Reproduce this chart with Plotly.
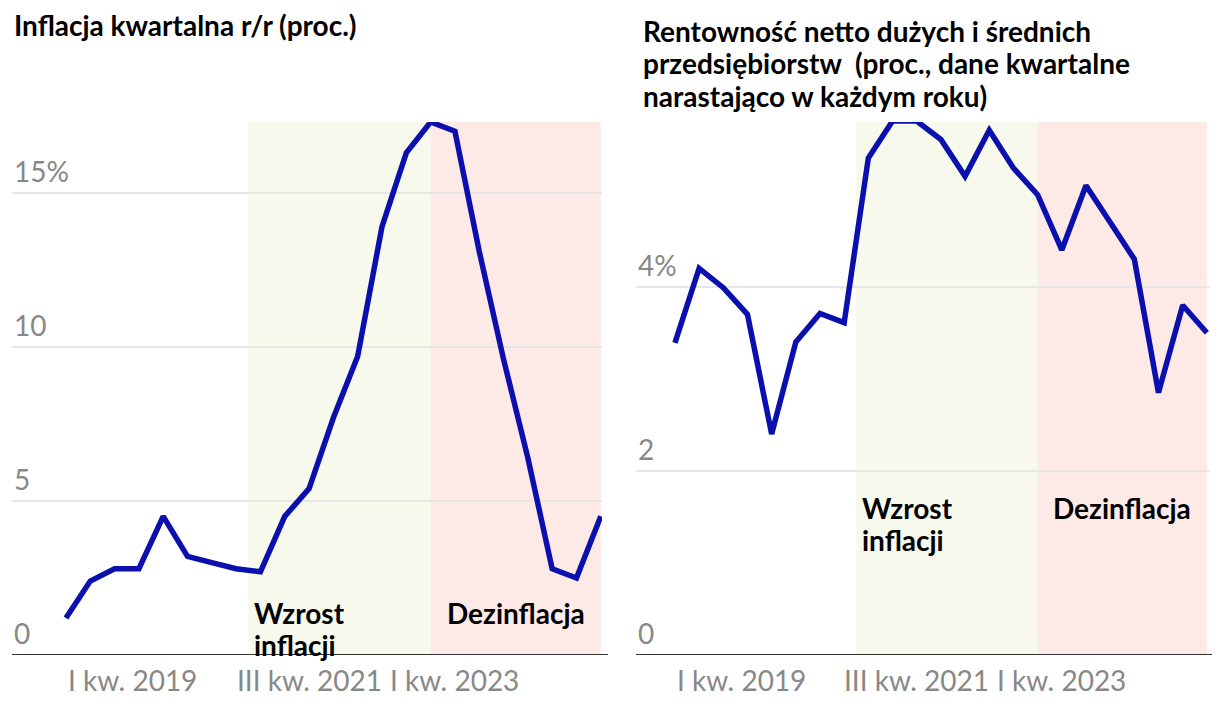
import plotly.graph_objects as go

# kwartały I 2019 - III 2024
quarters = [f"{q} kw. {y}" for y in range(2019, 2025) for q in ["I", "II", "III", "IV"]][:23]

inflation = [1.2, 2.4, 2.8, 2.8, 4.5, 3.2, 3.0, 2.8, 2.7, 4.5, 5.4, 7.7,
             9.7, 13.9, 16.3, 17.3, 17.0, 13.1, 9.6, 6.4, 2.8, 2.5, 4.5]
profitability = [3.39, 4.20, 3.99, 3.70, 2.40, 3.40, 3.71, 3.61, 5.40, 5.80, 5.80, 5.60,
                 5.20, 5.70, 5.29, 5.00, 4.40, 5.10, 4.70, 4.30, 2.85, 3.80, 3.50]

tick_labels = ["I kw. 2019", "III kw. 2021", "I kw. 2023"]
growth_start = ("IV kw. 2020", "I kw. 2021")   # Wzrost inflacji zaczyna się między tymi kwartałami
disinfl_start, last_q = "IV kw. 2022", "III kw. 2024"

title_left = "Inflacja kwartalna r/r (proc.)"
title_right = ["Rentowność netto dużych i średnich",
               "przedsiębiorstw  (proc., dane kwartalne",
               "narastająco w każdym roku)"]

FONT = "Lato"
FS = 28
BLUE = "#0a0fae"
GREY = "#888888"

# strona ma 8 px marginesu body, więc figura zaczyna się w (8, 8)
W, H, OFF = 1204, 696, 8


def px_x(p):
    return (p - OFF) / W


def px_y(p):
    return 1 - (p - OFF) / H


def base_y(baseline):
    # dolna krawędź pola tekstu dla podanej linii bazowej (ekran)
    return px_y(baseline + 0.213 * FS + 1)


idx = {q: i for i, q in enumerate(quarters)}
xs = list(range(len(quarters)))

fig = go.Figure()
fig.add_trace(go.Scatter(x=xs, y=inflation, mode="lines", line=dict(color=BLUE, width=5.5),
                         xaxis="x", yaxis="y", showlegend=False, cliponaxis=False))
fig.add_trace(go.Scatter(x=xs, y=profitability, mode="lines", line=dict(color=BLUE, width=5.5),
                         xaxis="x2", yaxis="y2", showlegend=False, cliponaxis=False))

ydom = [px_y(655), px_y(122)]
fig.update_layout(
    width=W, height=H, margin=dict(l=0, r=0, t=0, b=0),
    paper_bgcolor="white", plot_bgcolor="white",
    font=dict(family=FONT, size=FS, color=GREY),
    xaxis=dict(domain=[px_x(12), px_x(602)], range=[-2.22, 22.05], showgrid=False,
               zeroline=False, showticklabels=False),
    yaxis=dict(domain=ydom, range=[0, 17.3], tickvals=[5, 10, 15], showticklabels=False,
               gridcolor="#e6e6e6", gridwidth=2, zeroline=False),
    xaxis2=dict(domain=[px_x(636), px_x(1210)], range=[-1.61, 22.13], showgrid=False,
                zeroline=False, showticklabels=False),
    yaxis2=dict(domain=ydom, range=[0, 5.79], tickvals=[2, 4], showticklabels=False,
                gridcolor="#e6e6e6", gridwidth=2, zeroline=False, anchor="x2"),
)

g0 = (idx[growth_start[0]] + idx[growth_start[1]]) / 2
panels = [("x", "y", 625), ("x2", "y2", 520)]
for xr, yr, lab_base in panels:
    fig.add_shape(type="rect", xref=xr, yref=f"{yr} domain", x0=g0, x1=idx[disinfl_start],
                  y0=0, y1=1, fillcolor="#f6f9eb", line_width=0, layer="below")
    fig.add_shape(type="rect", xref=xr, yref=f"{yr} domain", x0=idx[disinfl_start],
                  x1=idx[last_q], y0=0, y1=1, fillcolor="#fde9e6", line_width=0,
                  layer="below")
    fig.add_shape(type="line", xref=f"{xr} domain", yref=yr, x0=0, x1=1.01, y0=0, y1=0,
                  line=dict(color="#333333", width=2))
    # etykiety osi X
    for i, lab in enumerate(tick_labels):
        fig.add_annotation(x=idx[lab], xref=xr, y=base_y(692), yref="paper", yanchor="bottom",
                           text=lab, showarrow=False,
                           xanchor="left" if i == 0 else "center",
                           font=dict(family=FONT, size=FS, color=GREY))
    # adnotacje okresów
    for line, dy in [("Wzrost", 0), ("inflacji", 32)]:
        fig.add_annotation(x=g0, xref=xr, y=base_y(lab_base + dy), yref="paper",
                           xanchor="left", yanchor="bottom", xshift=4, text=f"<b>{line}</b>",
                           showarrow=False, font=dict(family=FONT, size=FS, color="black"))
    fig.add_annotation(x=(idx[disinfl_start] + idx[last_q]) / 2, xref=xr,
                       y=base_y(lab_base), yref="paper", xanchor="center", yanchor="bottom",
                       text="<b>Dezinflacja</b>", showarrow=False,
                       font=dict(family=FONT, size=FS, color="black"))

# etykiety osi Y
for xr, yr, ticks in [("x", "y", [(0, "0"), (5, "5"), (10, "10"), (15, "15%")]),
                      ("x2", "y2", [(0, "0"), (2, "2"), (4, "4%")])]:
    for yv, txt in ticks:
        fig.add_annotation(x=0, xref=f"{xr} domain", y=yv, yref=yr, xanchor="left",
                           yanchor="bottom", text=txt, showarrow=False, xshift=0, yshift=3,
                           font=dict(family=FONT, size=FS, color=GREY))

# tytuły
fig.add_annotation(x=px_x(12), y=base_y(37), xref="paper", yref="paper", xanchor="left",
                   yanchor="bottom", text=f"<b>{title_left}</b>", showarrow=False,
                   font=dict(family=FONT, size=FS, color="black"))
for k, line in enumerate(title_right):
    fig.add_annotation(x=px_x(641), y=base_y(43 + 32.5 * k), xref="paper", yref="paper",
                       xanchor="left", yanchor="bottom", text=f"<b>{line}</b>",
                       showarrow=False, font=dict(family=FONT, size=FS, color="black"))

fig.write_html("out.html")
